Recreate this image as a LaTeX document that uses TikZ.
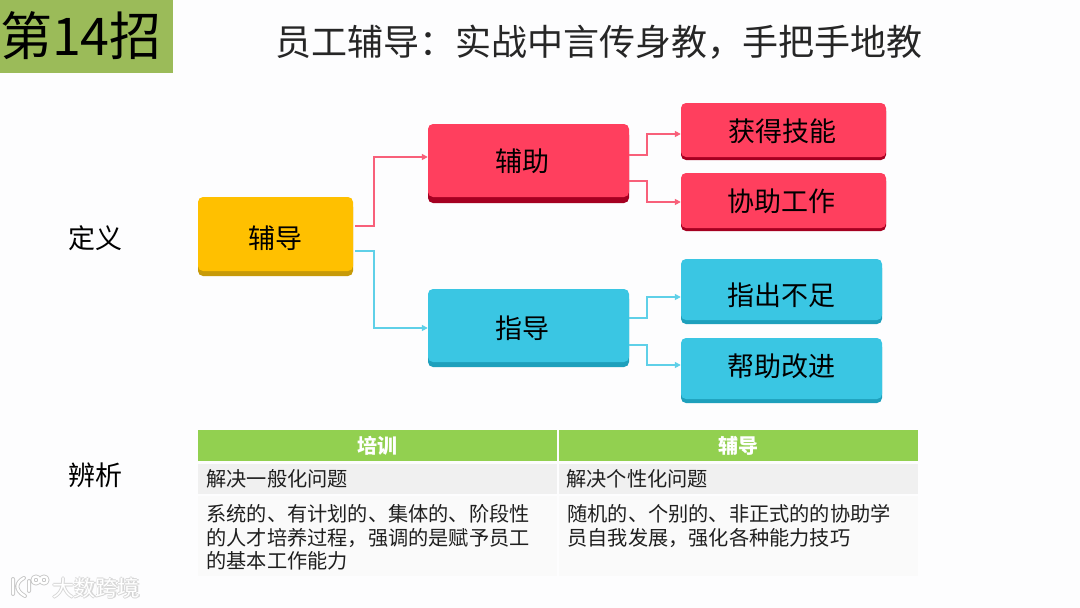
\documentclass[tikz,border=0pt]{standalone}
\usepackage{fontspec}
\setmainfont{Noto Sans CJK SC}
\usepackage{xcolor}
\usetikzlibrary{arrows.meta, calc}
\definecolor{pagebg}{RGB}{253,253,254}
\definecolor{olive}{RGB}{155,187,89}
\definecolor{softyellow}{RGB}{255,192,0}
\definecolor{darkyellow}{RGB}{199,154,8}
\definecolor{softred}{RGB}{255,63,94}
\definecolor{darkred}{RGB}{165,0,33}
\definecolor{linered}{RGB}{248,96,122}
\definecolor{softcyan}{RGB}{58,198,227}
\definecolor{darkcyan}{RGB}{30,160,188}
\definecolor{linecyan}{RGB}{95,208,232}
\definecolor{headgreen}{RGB}{146,208,80}
\definecolor{rowone}{RGB}{240,240,240}
\definecolor{rowtwo}{RGB}{250,250,250}
\tikzset{
  box/.style n args={3}{rounded corners=5pt, inner sep=0pt, fill=#1, text depth=4pt, font=\fontsize{27}{27}\selectfont,
    preaction={fill=#2, transform canvas={yshift=-#3pt}}},
  yellowbox/.style={box={softyellow}{darkyellow}{5}},
  redbox/.style={box={softred}{darkred}{#1}},
  cyanbox/.style={box={softcyan}{darkcyan}{#1}},
  redline/.style={draw=linered, line width=1.5pt, -{Triangle[length=6pt,width=6pt]}},
  cyanline/.style={draw=linecyan, line width=1.5pt, -{Triangle[length=6pt,width=6pt]}},
  cell/.style={inner sep=0pt, anchor=north west, text width=#1, align=left, font=\fontsize{20.2}{23.6}\selectfont, text=black!88},
  rowfill/.style={inner sep=0pt, anchor=north west, minimum width=359pt},
  headcell/.style={rowfill, fill=headgreen, minimum height=31pt, text=white, font=\fontsize{20}{20}\selectfont\bfseries},
  sidelabel/.style={font=\fontsize{27}{27}\selectfont},
}
\begin{document}
\begin{tikzpicture}[x=1pt, y=-1pt]
  \useasboundingbox (0,0) rectangle (1080,608);
  \fill[pagebg] (0,0) rectangle (1080,608);
  % Title bar
  \node[fill=olive, anchor=north west, inner sep=0pt, minimum width=173pt, minimum height=73pt] (tag) at (0,0) {};
  \node[font=\fontsize{52}{52}\selectfont, inner sep=0pt] (tagtext) at (81,36) {第14招};
  \node[font=\fontsize{36}{36}\selectfont, text=black!85] (title) at (599,42) {员工辅导：实战中言传身教，手把手地教};
  \node[sidelabel] (dingyi) at (95,238) {定义};
  \node[sidelabel] (bianxi) at (95,475) {辨析};
  % Boxes
  \node[yellowbox, text height=32.6pt, minimum width=155pt, minimum height=74pt] (fudao) at (275.5,234) {辅导};
  \node[redbox=6, text height=25.6pt, minimum width=201pt, minimum height=73pt] (fuzhu) at (528.5,160.5) {\hspace*{-13pt}辅助};
  \node[cyanbox=5, text height=29.6pt, minimum width=201pt, minimum height=73pt] (zhidao) at (528.5,325.5) {\hspace*{-13pt}指导};
  \node[redbox=3, text height=26.6pt, minimum width=205pt, minimum height=54pt] (huode) at (783.5,130) {\hspace*{-3pt}获得技能};
  \node[redbox=3, text height=25.6pt, minimum width=205pt, minimum height=55pt] (xiezhu) at (783.5,200.5) {\hspace*{-5pt}协助工作};
  \node[cyanbox=4, text height=35.6pt, minimum width=201pt, minimum height=61pt] (zhichu) at (781.5,289.5) {指出不足};
  \node[cyanbox=4, text height=19.6pt, minimum width=201pt, minimum height=61pt] (bangzhu) at (781.5,368.5) {帮助改进};
  % Connectors
  \draw[redline] ([shift={(2pt,8pt)}]fudao.east) -- ++(19,0) |- ([yshift=3.5pt]fuzhu.west);
  \draw[cyanline] ([shift={(2pt,-17pt)}]fudao.east) -- ++(19,0) |- ([yshift=-2.5pt]zhidao.west);
  \draw[redline] ([yshift=5.5pt]fuzhu.east) -- ++(18,0) |- ([yshift=-4pt]huode.west);
  \draw[redline] ([yshift=-20.5pt]fuzhu.east) -- ++(18,0) |- ([yshift=-1.5pt]xiezhu.west);
  \draw[cyanline] ([yshift=7.5pt]zhidao.east) -- ++(18,0) |- ([yshift=-7.5pt]zhichu.west);
  \draw[cyanline] ([yshift=-19.5pt]zhidao.east) -- ++(18,0) |- ([yshift=3.5pt]bangzhu.west);
  % Table
  \node[headcell] (headpeixun) at (198,430) {培训};
  \node[headcell] (headfudao) at (559,430) {辅导};
  \node[rowfill, fill=rowone, minimum height=30pt] (rowa) at (198,464) {};
  \node[rowfill, fill=rowone, minimum height=30pt] (rowb) at (559,464) {};
  \node[rowfill, fill=rowtwo, minimum height=80pt] (rowc) at (198,496) {};
  \node[rowfill, fill=rowtwo, minimum height=80pt] (rowd) at (559,496) {};
  \node[cell=340pt] (texta) at (206.3,469.5) {解决一般化问题};
  \node[cell=340pt] (textb) at (566.3,469.5) {解决个性化问题};
  \node[cell=340pt] (textc) at (206.3,504.5) {系统的、有计划的、集体的、阶段性\\的人才培养过程，强调的是赋予员工\\的基本工作能力};
  \node[cell=340pt] (textd) at (567.3,504.5) {随机的、个别的、非正式的的协助学\\员自我发展，强化各种能力技巧};
  % Watermark
  \foreach \c/\w in {black!22/4pt, white/2.2pt} {
    \draw[\c, line width=\w, line cap=round, line join=round]
      (13,579) -- (13,594) (24,578) .. controls (16,582) and (14,590) .. (25,596)
      (29,581) -- (29,591) (36,580) circle (3.5pt) (44,580) circle (3.5pt);
  }
  \foreach \i/\dx/\dy in {1/-1/0, 2/1/0, 3/0/-1, 4/0/1} {
    \node[font=\fontsize{22}{22}\selectfont, text=black!16] (glow\i) at (96+\dx,588+\dy) {大数跨境};
  }
  \node[font=\fontsize{22}{22}\selectfont, text=white] (mark) at (96,588) {大数跨境};
\end{tikzpicture}
\end{document}
